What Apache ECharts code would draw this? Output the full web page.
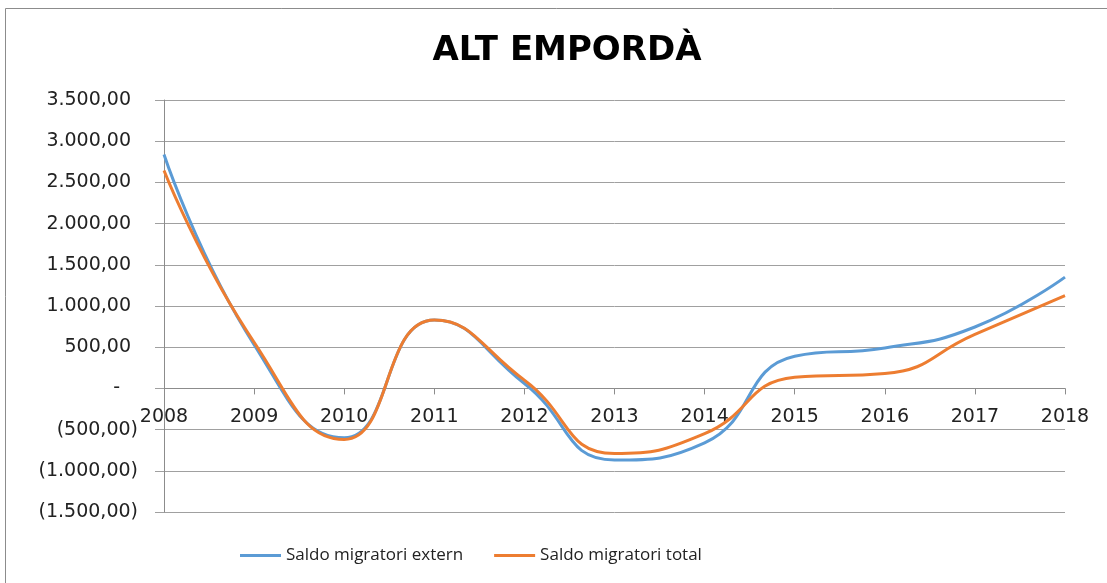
<!DOCTYPE html>
<html>
<head>
<meta charset="utf-8">
<script src="https://cdn.jsdelivr.net/npm/echarts@6/dist/echarts.min.js"></script>
<style>
  html, body { margin: 0; padding: 0; background: #fff; }
  #chart { width: 1107px; height: 583px; }
</style>
</head>
<body>
<div id="chart"></div>
<script>
const years   = ['2008', '2009', '2010', '2011', '2012', '2013', '2014', '2015', '2016', '2017', '2018']
const extern  = [2838, 530, -600, 830, 60, -870, -660, 390, 490, 745, 1350]
const total   = [2644, 560, -620, 830, 100, -790, -550, 135, 180, 655, 1125]
const seriesNames = ['Saldo migratori extern', 'Saldo migratori total']

const yMin = -1500, yMax = 3500
const blue   = '#5b9bd5'
const orange = '#ed7d31'
const font   = 'DejaVu Sans'

// 3500 -> "3.500,00", 0 -> "-", -500 -> "(500,00)"
function fmt(v) {
  const n = Math.abs(v)
  const s = n.toFixed(2).split('.')
  const int = s[0].replace(/\B(?=(\d{3})+(?!\d))/g, '.')
  const txt = int + ',' + s[1]
  if (v === 0) return '{z|-}'
  if (v < 0) return '{n|(' + txt + ')}'
  return '{p|' + txt + '}'
}

const chart = echarts.init(document.getElementById('chart'), null, { renderer: 'canvas' })

const labelBase = { fontFamily: font, fontSize: 19, color: '#222' }
const gridTop = 100, gridBottom = 71
const plotH = 583 - gridTop - gridBottom
// lift the category axis up to the zero line (onZero does not kick in here)
const zeroOffset = -plotH * (0 - yMin) / (yMax - yMin)

chart.setOption({
  backgroundColor: '#fff',
  animation: false,
  graphic: [{
    type: 'rect',
    shape: { x: 5.5, y: 8.5, width: 1300, height: 800 },
    style: { fill: 'none', stroke: '#8c8c8c', lineWidth: 1 },
    silent: true
  }],
  title: {
    text: 'ALT EMPORDÀ',
    left: 562, top: 29, textAlign: 'center',
    textStyle: { fontFamily: font, fontWeight: 'bold', fontSize: 34, color: '#000' }
  },
  legend: {
    data: seriesNames,
    left: 240, top: 547, padding: 0,
    icon: 'rect',
    itemWidth: 41, itemHeight: 3, itemGap: 31,
    textStyle: { fontFamily: 'Open Sans', fontSize: 17, color: '#222' }
  },
  grid: { left: 164, right: 42, top: gridTop, bottom: gridBottom },
  xAxis: {
    type: 'category',
    data: years,
    boundaryGap: false,
    offset: zeroOffset,
    axisLine: { onZero: false, lineStyle: { color: '#8c8c8c', width: 1 } },
    axisTick: { show: true, length: 6, lineStyle: { color: '#8c8c8c' } },
    axisLabel: { ...labelBase, margin: 19 },
    splitLine: { show: false }
  },
  yAxis: {
    type: 'value',
    min: yMin, max: yMax, interval: 500,
    axisLine: { show: true, lineStyle: { color: '#8c8c8c', width: 1 } },
    axisTick: { show: true, length: 9, lineStyle: { color: '#a0a0a0' } },
    axisLabel: {
      margin: 26,
      formatter: fmt,
      rich: {
        p: { ...labelBase, padding: [0, 7, 0, 0] },
        n: { ...labelBase },
        z: { ...labelBase, padding: [0, 18, 0, 0] }
      }
    },
    splitLine: { show: true, lineStyle: { color: '#a0a0a0', width: 1 } }
  },
  series: [
    {
      name: seriesNames[0], type: 'line', data: extern,
      smooth: 0.5, symbol: 'none',
      lineStyle: { color: blue, width: 3 },
      itemStyle: { color: blue }
    },
    {
      name: seriesNames[1], type: 'line', data: total,
      smooth: 0.5, symbol: 'none',
      lineStyle: { color: orange, width: 3 },
      itemStyle: { color: orange }
    }
  ]
})
</script>
</body>
</html>
